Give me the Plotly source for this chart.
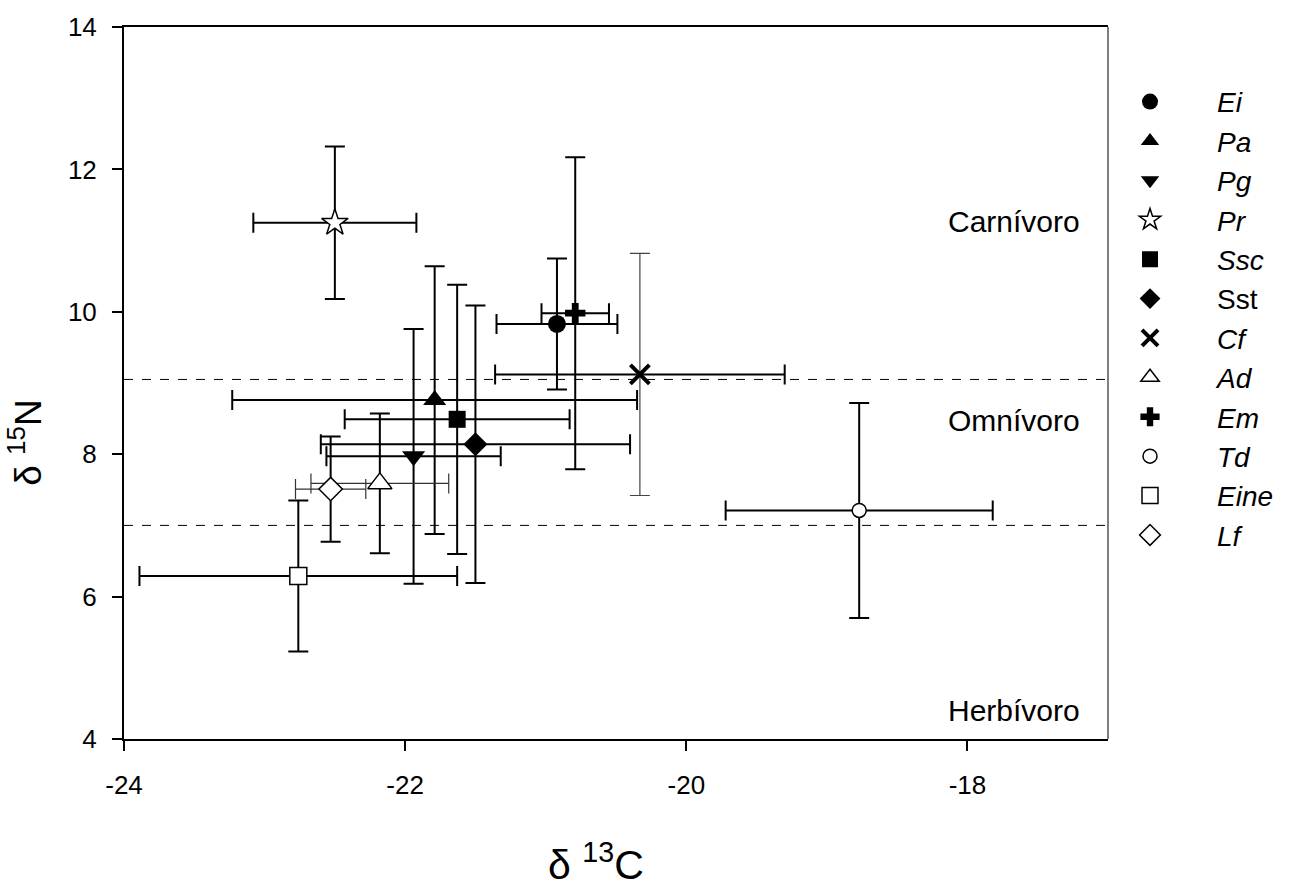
import plotly.graph_objects as go

# ---- data ----
species = ["<i>Ei</i>", "<i>Pa</i>", "<i>Pg</i>", "<i>Pr</i>", "<i>Ssc</i>", "Sst",
           "<i>Cf</i>", "<i>Ad</i>", "<i>Em</i>", "<i>Td</i>", "<i>Eine</i>", "<i>Lf</i>"]
d13C = [-20.92, -21.79, -21.94, -22.50, -21.63, -21.50, -20.33, -22.18, -20.79, -18.77, -22.76, -22.53]
d13C_sd = [0.43, 1.44, 0.62, 0.58, 0.80, 1.10, 1.03, 0.49, 0.24, 0.95, 1.13, 0.25]
d15N = [9.83, 8.76, 7.97, 11.25, 8.49, 8.14, 9.12, 7.59, 9.98, 7.21, 6.29, 7.51]
d15N_sd = [0.92, 1.88, 1.79, 1.07, 1.89, 1.95, 1.70, 0.98, 2.19, 1.51, 1.06, 0.74]

# trophic boundaries and labels
boundaries = [9.05, 7.0]
zone_labels = ["Carnívoro", "Omnívoro", "Herbívoro"]
zone_label_y = [11.27, 8.48, 4.40]

x_ticks = [-24, -22, -20, -18]
x_ticklabels = ["-24", "-22", "-20", "-18"]
y_ticks = [4, 6, 8, 10, 12, 14]
y_ticklabels = ["4", "6", "8", "10", "12", "14"]

# ---- styling ----
symbols = ["circle", "triangle-up", "triangle-down", "star", "square", "diamond",
           "x-thin-open", "triangle-up", "cross", "circle", "square", "diamond"]
fills = ["black", "black", "black", "white", "black", "black",
         "black", "white", "black", "white", "white", "white"]
sizes = [18, 20, 20, 20, 17, 18.5, 19, 21, 17, 14, 17, 18]
ex_thick = [2, 2, 2, 2, 2, 2, 2, 1.2, 2, 2, 2, 1.2]
ey_thick = [2, 2, 2, 2, 2, 2, 1.2, 2, 2, 2, 2, 2]
ex_col = ["black"] * 7 + ["#333333", "black", "black", "black", "#333333"]
ey_col = ["black"] * 6 + ["#444444"] + ["black"] * 5

FONT = "Liberation Sans, Arial, sans-serif"

fig = go.Figure()
for i, name in enumerate(species):
    line_w = 4 if symbols[i] == "x-thin-open" else (1.5 if fills[i] == "white" else 0)
    fig.add_trace(go.Scatter(
        x=[d13C[i]], y=[d15N[i]], mode="markers", name=name,
        marker=dict(symbol=symbols[i], size=sizes[i], color=fills[i],
                    line=dict(color="black", width=line_w)),
        error_x=dict(type="data", array=[d13C_sd[i]], color=ex_col[i],
                     thickness=ex_thick[i], width=10),
        error_y=dict(type="data", array=[d15N_sd[i]], color=ey_col[i],
                     thickness=ey_thick[i], width=10),
        cliponaxis=False,
    ))

for b in boundaries:
    fig.add_shape(type="line", xref="paper", x0=0, x1=1, yref="y", y0=b, y1=b,
                  line=dict(color="black", width=1, dash="dash"), layer="below")

# right border (thin grey in the reference)
fig.add_shape(type="line", xref="paper", x0=1, x1=1, yref="paper", y0=0, y1=1,
              line=dict(color="#555555", width=1.5))

for lab, yy in zip(zone_labels, zone_label_y):
    fig.add_annotation(x=0.9735, xref="paper", y=yy, yref="y", text=lab, showarrow=False,
                       xanchor="right", yanchor="middle",
                       font=dict(family=FONT, size=30, color="black"))

# axis titles
fig.add_annotation(x=0.48, xref="paper", y=-0.173, yref="paper", text="δ <sup>13</sup>C",
                   showarrow=False, xanchor="center", yanchor="middle",
                   font=dict(family=FONT, size=41, color="black"))
fig.add_annotation(text="δ <sup>15</sup>N", showarrow=False, textangle=-90,
                   xref="paper", yref="paper", x=-0.0996, y=0.416,
                   xanchor="center", yanchor="middle",
                   font=dict(family=FONT, size=37, color="black"))

axis_common = dict(showline=True, linecolor="black", linewidth=2,
                   ticks="outside", ticklen=10, tickwidth=2, tickcolor="black",
                   showgrid=False, zeroline=False,
                   tickfont=dict(family=FONT, size=26, color="black"))
fig.update_xaxes(range=[-24, -17], tickvals=x_ticks, ticktext=x_ticklabels,
                 mirror=True, ticklabelstandoff=12, **axis_common)
fig.update_yaxes(range=[4, 14], tickvals=y_ticks, ticktext=y_ticklabels,
                 mirror=False, ticklabelstandoff=10, **axis_common)

fig.update_layout(
    width=1307, height=888,
    margin=dict(l=124, r=199, t=22, b=149),
    plot_bgcolor="white", paper_bgcolor="white",
    font=dict(family=FONT, color="black"),
    showlegend=True,
    legend=dict(x=0.9746, xanchor="left", y=0.93, yanchor="top",
                font=dict(family=FONT, size=28, color="black"),
                itemwidth=124, bgcolor="rgba(0,0,0,0)"),
)

fig.write_html("out.html", config={"displayModeBar": False},
               post_script="document.body.style.margin='0';document.body.style.padding='0';")
